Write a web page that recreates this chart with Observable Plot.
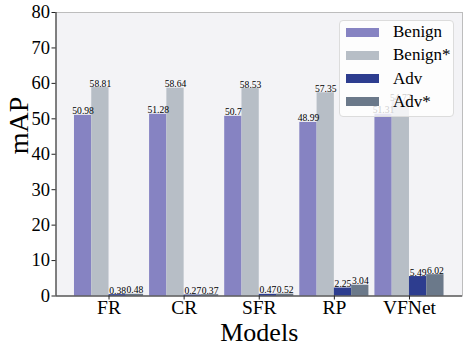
<!DOCTYPE html>
<html>
<head>
<meta charset="utf-8">
<script src="https://cdn.jsdelivr.net/npm/d3@7"></script>
<script src="https://cdn.jsdelivr.net/npm/@observablehq/plot@0.6"></script>
<style>
  html, body { margin: 0; padding: 0; background: #fff; }
  #wrap { position: relative; width: 468px; height: 350px; }
  #wrap, #wrap * { font-family: "Liberation Serif", "Times New Roman", "DejaVu Serif", serif !important; }
  #legend { position: absolute; left: 339px; top: 20px; width: 115px; height: 97px; box-sizing: border-box;
    background: rgba(255,255,255,0.8); border: 1px solid #dcdcdc; border-radius: 4px; }
  .item { position: absolute; left: 6px; height: 20px; display: flex; align-items: center; }
  .sw { width: 33px; height: 9px; margin-right: 14px; }
  .lb { font-size: 17px; color: #000; }
</style>
</head>
<body>
<div id="wrap"></div>
<script>
const models = ["FR", "CR", "SFR", "RP", "VFNet"];
const series = ["Benign", "Benign*", "Adv", "Adv*"];
const benign = [50.98, 51.28, 50.7, 48.99, 51.31];
const benignStar = [58.81, 58.64, 58.53, 57.35, 54.77];
const adv = [0.38, 0.27, 0.47, 2.25, 5.49];
const advStar = [0.48, 0.37, 0.52, 3.04, 6.02];
const colors = ["#8683c2", "#b7bec6", "#2d3d8f", "#6b798a"];
const yTicks = [0, 10, 20, 30, 40, 50, 60, 70, 80];

const barW = 0.23;
const valuesBySeries = [benign, benignStar, adv, advStar];
const data = [];
valuesBySeries.forEach((vals, k) => {
  vals.forEach((v, i) => {
    const x1 = i + (k - 2) * barW;
    data.push({model: models[i], series: series[k], value: v, x1, x2: x1 + barW, xc: x1 + barW / 2, label: String(v)});
  });
});
const xMin = -2 * barW - 0.246, xMax = 4 + 2 * barW + 0.246;
const serif = "Liberation Serif";

const chart = Plot.plot({
  width: 468,
  height: 350,
  marginLeft: 55.5,
  marginRight: 6,
  marginTop: 12,
  marginBottom: 54.5,
  style: {background: "transparent", color: "#000"},
  x: {type: "linear", domain: [xMin, xMax], axis: null},
  y: {domain: [0, 80], axis: null},
  color: {domain: series, range: colors},
  marks: [
    Plot.frame({fill: "#f3f3f6", stroke: "#bdbdbd"}),
    Plot.rectY(data, {x1: "x1", x2: "x2", y: "value", fill: "series"}),
    Plot.text(data, {x: "xc", y: "value", text: "label", fontSize: 9.6, fontFamily: serif, lineAnchor: "bottom", dy: -1, fill: "#000"}),
    Plot.ruleY([0], {stroke: "#222"}),
    Plot.ruleX([xMin], {stroke: "#222"}),
    Plot.axisY(yTicks, {tickSize: 4, tickPadding: 2, label: null, stroke: "#222", fontSize: 18.5, fontFamily: serif}),
    Plot.axisX(models.map((d, i) => i), {tickSize: 4, tickPadding: 0, label: null, tickFormat: i => models[i], stroke: "#222", fontSize: 19.5, fontFamily: serif}),
    Plot.text(["mAP"], {frameAnchor: "left", dx: -37, rotate: -90, fontSize: 28, fontFamily: serif, lineAnchor: "middle"}),
    Plot.text(["Models"], {frameAnchor: "bottom", dy: 37, fontSize: 26, fontFamily: serif, lineAnchor: "middle"})
  ]
});
const wrap = document.getElementById("wrap");
wrap.appendChild(chart);

const legend = d3.select(wrap).append("div").attr("id", "legend");
series.forEach((s, k) => {
  const it = legend.append("div").attr("class", "item").style("top", (1 + k * 23.3) + "px");
  it.append("div").attr("class", "sw").style("background", colors[k]);
  it.append("div").attr("class", "lb").text(s);
});
</script>
</body>
</html>
